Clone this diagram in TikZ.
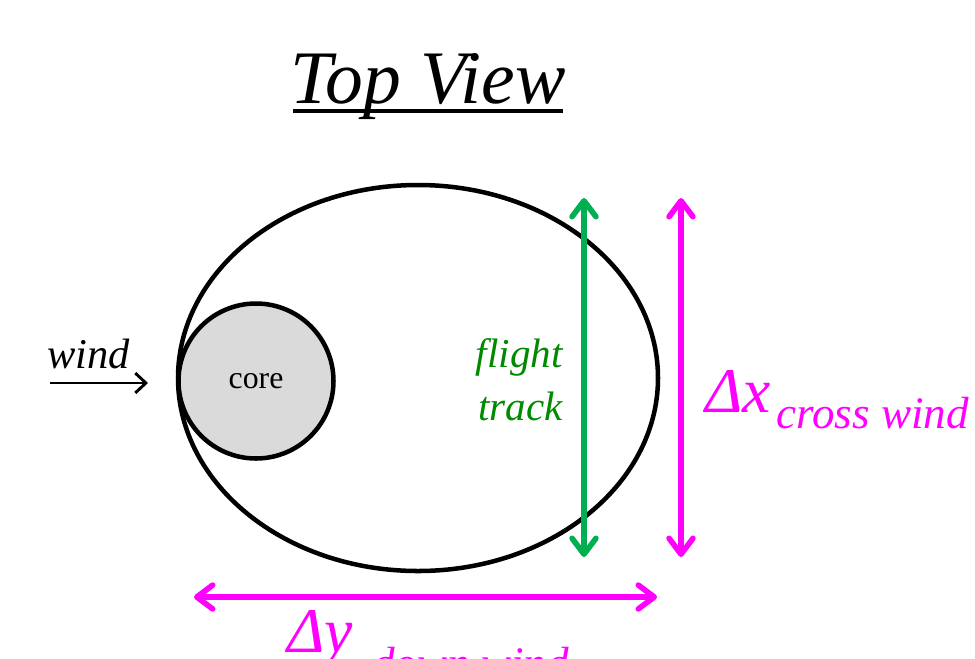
\documentclass[tikz,border=0pt]{standalone}
\usepackage{fontspec}
\setmainfont{LiberationSerif}[Extension=.ttf, UprightFont=*-Regular,
  ItalicFont=*-Italic, BoldFont=*-Bold, BoldItalicFont=*-BoldItalic]
\usepackage{xcolor}
\usepackage{tikz}
\usetikzlibrary{positioning, arrows.meta}
\definecolor{sMagenta}{HTML}{FF00FF}
\definecolor{sGreen}{HTML}{00B050}
\definecolor{tGreen}{HTML}{008A00}
\definecolor{coreFill}{HTML}{DADADA}
\tikzset{
  outline/.style={draw=black, line width=3.4pt},
  span/.style={line width=4.2pt, line cap=round,
    {Straight Barb[length=12pt, width=18pt, round]}-{Straight Barb[length=12pt, width=18pt, round]}},
  windarrow/.style={line width=2.2pt, -{Straight Barb[length=8pt, width=15pt]}},
  lbl/.style={inner sep=0pt, anchor=base west},
}
\newcommand{\fsz}[1]{\fontsize{#1}{1.2\dimexpr#1pt\relax}\selectfont}

\begin{document}
\begin{tikzpicture}[x=0.0265cm, y=-0.0265cm]
  \useasboundingbox (0,0) rectangle (975,658);
  % title
  \node[lbl, anchor=base, font=\fsz{57}\itshape] (title) at (428,103) {Top View};
  \draw[line width=2.4pt] (293,111) -- (563,111);
  % plume and core
  \draw[outline] (418,378) ellipse [x radius=240, y radius=193];
  \node[outline, circle, fill=coreFill, minimum size=155*0.0265cm, inner sep=0pt,
    font=\fsz{24}] (core) at (256,381) {\raisebox{-3pt}{core}};
  % wind
  \node[lbl, font=\fsz{32}\itshape] (wind) at (47,368) {wind};
  \coordinate (windtail) at (50,383);
  \coordinate (windhead) at (148,383);
  \draw[windarrow] (windtail) -- (windhead);
  % flight track
  \coordinate (ftop) at (584,198);
  \coordinate (fbot) at (584,557);
  \draw[span, draw=sGreen] (fbot) -- (ftop);
  \node[lbl, anchor=base east, font=\fsz{31}\itshape, text=tGreen] (flight) at (563,367) {flight};
  \node[lbl, anchor=base east, font=\fsz{31}\itshape, text=tGreen] (track) at (563,420) {track};
  % cross wind
  \coordinate (ctop) at (681,198);
  \coordinate (cbot) at (681,557);
  \draw[span, draw=sMagenta] (cbot) -- (ctop);
  \node[lbl, font=\fsz{48}\itshape, text=sMagenta] (dx) at (705,412) {Δx};
  \node[lbl, font=\fsz{34}\itshape, text=sMagenta] (dxsub) at (776,428) {cross wind};
  % down wind
  \coordinate (dleft) at (194,597);
  \coordinate (dright) at (657,597);
  \draw[span, draw=sMagenta] (dleft) -- (dright);
  \node[lbl, font=\fsz{48}\itshape, text=sMagenta] (dy) at (287,652) {Δy};
  \node[lbl, font=\fsz{34}\itshape, text=sMagenta] (dysub) at (372,678) {down wind};
\end{tikzpicture}
\end{document}
